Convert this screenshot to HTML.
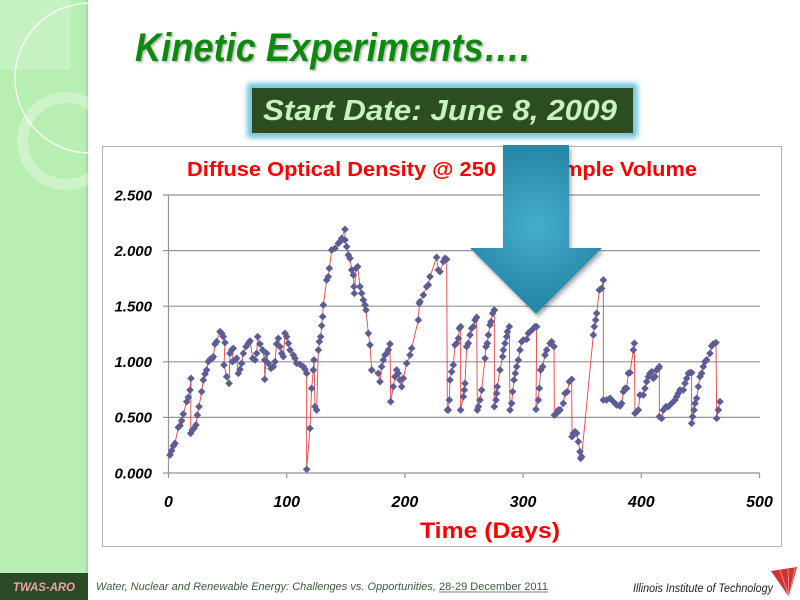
<!DOCTYPE html>
<html>
<head>
<meta charset="utf-8">
<style>
html,body{margin:0;padding:0;background:#fff;}
body{width:800px;height:600px;overflow:hidden;}
svg{display:block;}
</style>
</head>
<body>
<svg width="800" height="600" viewBox="0 0 800 600" xmlns="http://www.w3.org/2000/svg">
<defs>
  <marker id="dm" markerUnits="userSpaceOnUse" markerWidth="24" markerHeight="24" refX="12" refY="12" overflow="visible">
    <path d="M12,0.5 L23.5,12 L12,23.5 L0.5,12 Z" fill="#5d5d95"/>
  </marker>
  <radialGradient id="ag" cx="536" cy="225" r="75" gradientUnits="userSpaceOnUse">
    <stop offset="0" stop-color="#47adcc"/>
    <stop offset="1" stop-color="#2789a8"/>
  </radialGradient>
  <filter id="sh" x="-20%" y="-20%" width="140%" height="140%">
    <feDropShadow dx="2" dy="3" stdDeviation="2" flood-color="#000" flood-opacity="0.35"/>
  </filter>
  <filter id="tsh" x="-5%" y="-20%" width="110%" height="140%">
    <feDropShadow dx="1.5" dy="1.5" stdDeviation="1" flood-color="#000" flood-opacity="0.3"/>
  </filter>
  <filter id="bglow" x="-10%" y="-50%" width="120%" height="200%">
    <feGaussianBlur stdDeviation="3"/>
  </filter>
</defs>

<!-- sidebar -->
<rect x="0" y="0" width="88" height="600" fill="#b7eeb1"/>
<rect x="86" y="0" width="2" height="573" fill="#a3dca0"/>
<rect x="0" y="0" width="71" height="70" fill="#ffffff" opacity="0.22"/>
<circle cx="90" cy="78" r="75" fill="none" stroke="#ffffff" stroke-width="1.6" opacity="0.85"/>
<circle cx="66" cy="141" r="43.5" fill="none" stroke="#ffffff" stroke-width="11" opacity="0.33"/>
<rect x="0" y="573" width="88" height="27" fill="#2c4a23"/>
<text x="13" y="591" font-family="Liberation Sans, sans-serif" font-size="12" font-weight="bold" font-style="italic" fill="#e8a4a4" textLength="62" lengthAdjust="spacingAndGlyphs">TWAS-ARO</text>

<!-- title -->
<text x="135" y="61" font-family="Liberation Sans, sans-serif" font-size="40" font-weight="bold" font-style="italic" fill="#0e8a0e" filter="url(#tsh)" textLength="395" lengthAdjust="spacingAndGlyphs">Kinetic Experiments….</text>

<!-- start date box -->
<rect x="251" y="87" width="383" height="47" fill="none" stroke="#5fbcd8" stroke-width="7" filter="url(#bglow)"/>
<rect x="252" y="88" width="381" height="45" fill="#2b4d21"/>
<text x="263" y="120" font-family="Liberation Sans, sans-serif" font-size="29" font-weight="bold" font-style="italic" fill="#c6f3be" textLength="354" lengthAdjust="spacingAndGlyphs">Start Date: June 8, 2009</text>

<!-- chart box -->
<rect x="102.5" y="146.5" width="679" height="400" fill="#ffffff" stroke="#b4b4b4" stroke-width="1"/>

<text x="187" y="176" font-family="Liberation Sans, sans-serif" font-size="20" font-weight="bold" fill="#ff0000" textLength="309" lengthAdjust="spacingAndGlyphs">Diffuse Optical Density @ 250</text>
<text x="563" y="176" font-family="Liberation Sans, sans-serif" font-size="20" font-weight="bold" fill="#ff0000" textLength="134" lengthAdjust="spacingAndGlyphs">mple Volume</text>

<!-- gridlines -->
<g stroke="#959595" stroke-width="1.2">
  <line x1="163" y1="195" x2="760" y2="195"/>
  <line x1="163" y1="250.6" x2="760" y2="250.6"/>
  <line x1="163" y1="306.2" x2="760" y2="306.2"/>
  <line x1="163" y1="361.8" x2="760" y2="361.8"/>
  <line x1="163" y1="417.4" x2="760" y2="417.4"/>
  <line x1="163" y1="473" x2="760" y2="473"/>
  <line x1="168.5" y1="195" x2="168.5" y2="478"/>
  <line x1="286.7" y1="473" x2="286.7" y2="478"/>
  <line x1="404.9" y1="473" x2="404.9" y2="478"/>
  <line x1="523.1" y1="473" x2="523.1" y2="478"/>
  <line x1="641.3" y1="473" x2="641.3" y2="478"/>
  <line x1="759.5" y1="473" x2="759.5" y2="478"/>
</g>

<!-- y labels -->
<g font-family="Liberation Sans, sans-serif" font-size="15" font-weight="bold" font-style="italic" fill="#000" text-anchor="end">
  <text x="152" y="200.5">2.500</text>
  <text x="152" y="256">2.000</text>
  <text x="152" y="311.5">1.500</text>
  <text x="152" y="367">1.000</text>
  <text x="152" y="422.5">0.500</text>
  <text x="152" y="478.5">0.000</text>
</g>
<!-- x labels -->
<g font-family="Liberation Sans, sans-serif" font-size="16" font-weight="bold" font-style="italic" fill="#000" text-anchor="middle">
  <text x="168.5" y="507">0</text>
  <text x="286.7" y="507">100</text>
  <text x="404.9" y="507">200</text>
  <text x="523.1" y="507">300</text>
  <text x="641.3" y="507">400</text>
  <text x="759.5" y="507">500</text>
</g>
<text x="420" y="538" font-family="Liberation Sans, sans-serif" font-size="22" font-weight="bold" fill="#ff0000" textLength="140" lengthAdjust="spacingAndGlyphs">Time (Days)</text>

<!-- data -->
<g transform="translate(160,180) scale(0.33333)">
<polyline fill="none" stroke="#ea2e2e" stroke-width="0.9" vector-effect="non-scaling-stroke" stroke-opacity="0.9" marker-start="url(#dm)" marker-mid="url(#dm)" marker-end="url(#dm)"
points="30,825 35,812 40,798 45,790 55,742 60,737 65,722 70,702 80,665 85,652 90,630 93,595 92,760 97,750 102,745 108,735 112,705 117,680 125,635 130,600 135,582 140,570 145,545 150,538 157,535 160,530 165,492 170,485 180,455 185,460 190,470 195,488 192,555 200,590 207,610 210,520 215,510 220,505 217,545 225,540 230,535 235,580 240,568 245,550 250,520 258,500 265,490 270,483 278,535 285,540 290,520 293,470 300,492 308,510 314,540 314,598 320,520 325,550 333,565 340,560 345,545 350,492 355,475 360,500 365,520 370,530 375,460 380,470 385,490 390,510 400,525 405,535 410,550 420,553 430,560 435,568 440,580 440,868 450,745 455,625 460,570 462,540 465,680 470,690 475,510 478,485 482,470 485,437 488,410 490,375 500,300 505,290 508,265 515,210 525,205 535,190 540,185 545,175 555,148 555,180 560,200 565,225 570,235 575,270 580,285 582,320 583,340 588,265 593,260 600,320 605,340 610,360 615,375 618,390 625,460 630,495 635,570 655,580 660,605 665,560 670,540 675,525 680,520 685,510 690,492 692,665 700,620 705,590 710,570 715,580 720,600 725,620 730,595 740,550 750,525 755,505 775,420 778,370 780,365 790,345 800,320 805,315 810,290 830,232 835,270 840,275 850,245 855,235 860,238 862,690 865,690 868,660 870,600 875,575 880,555 885,495 890,490 895,475 898,445 902,440 902,690 910,650 913,630 915,610 920,500 925,490 930,465 935,445 940,440 945,420 950,412 952,690 955,680 960,660 965,630 975,535 978,500 982,490 985,465 990,435 993,425 998,400 1003,390 1003,680 1008,660 1010,640 1012,620 1020,570 1028,530 1030,510 1035,490 1040,470 1042,455 1048,440 1050,690 1055,670 1058,635 1062,600 1066,580 1070,560 1075,540 1080,510 1085,485 1090,480 1100,478 1105,460 1110,455 1118,448 1125,440 1130,440 1128,688 1135,660 1138,625 1142,570 1148,560 1155,525 1160,510 1170,490 1175,485 1182,500 1183,705 1190,700 1195,690 1200,690 1210,670 1215,640 1222,635 1228,605 1235,598 1236,770 1240,760 1245,755 1250,760 1255,785 1260,815 1262,835 1265,830 1300,465 1303,440 1307,420 1310,400 1318,330 1325,325 1330,300 1330,660 1340,660 1350,655 1360,665 1370,675 1380,678 1385,670 1390,635 1395,625 1400,625 1405,580 1410,578 1420,510 1423,490 1425,700 1430,695 1435,690 1440,645 1450,645 1455,625 1460,605 1465,590 1470,580 1475,575 1480,595 1485,590 1490,570 1495,565 1498,560 1498,710 1505,715 1510,690 1518,680 1525,680 1535,670 1545,660 1550,650 1555,640 1560,630 1570,630 1575,610 1580,595 1585,580 1590,578 1595,578 1595,730 1598,710 1602,690 1605,670 1610,655 1615,620 1620,590 1625,580 1630,560 1635,545 1640,540 1650,520 1655,498 1660,492 1668,488 1670,715 1675,690 1680,665"/>
</g>

<!-- arrow -->
<polygon points="503,145 569,145 569,248 602,248 536,314 470,248 503,248" fill="url(#ag)" filter="url(#sh)"/>

<!-- footer -->
<text x="96" y="590" font-family="Liberation Sans, sans-serif" font-size="11" font-style="italic" fill="#3c5a3c" textLength="340" lengthAdjust="spacingAndGlyphs">Water, Nuclear and Renewable Energy: Challenges vs. Opportunities,</text>
<text x="439" y="590" font-family="Liberation Sans, sans-serif" font-size="11" fill="#3c5a3c" textLength="109" lengthAdjust="spacingAndGlyphs">28-29 December 2011</text>
<line x1="439" y1="592" x2="548" y2="592" stroke="#3c5a3c" stroke-width="0.8"/>
<text x="633" y="592" font-family="Liberation Sans, sans-serif" font-size="12" font-style="italic" fill="#222" textLength="140" lengthAdjust="spacingAndGlyphs">Illinois Institute of Technology</text>
<polygon points="771,571 797,567 789,597" fill="#d23232"/>
<g stroke="#ffffff" stroke-width="0.6" opacity="0.7">
  <line x1="789" y1="597" x2="780" y2="570"/>
  <line x1="789" y1="597" x2="788" y2="569"/>
  <line x1="789" y1="597" x2="795" y2="568"/>
</g>
</svg>
</body>
</html>
